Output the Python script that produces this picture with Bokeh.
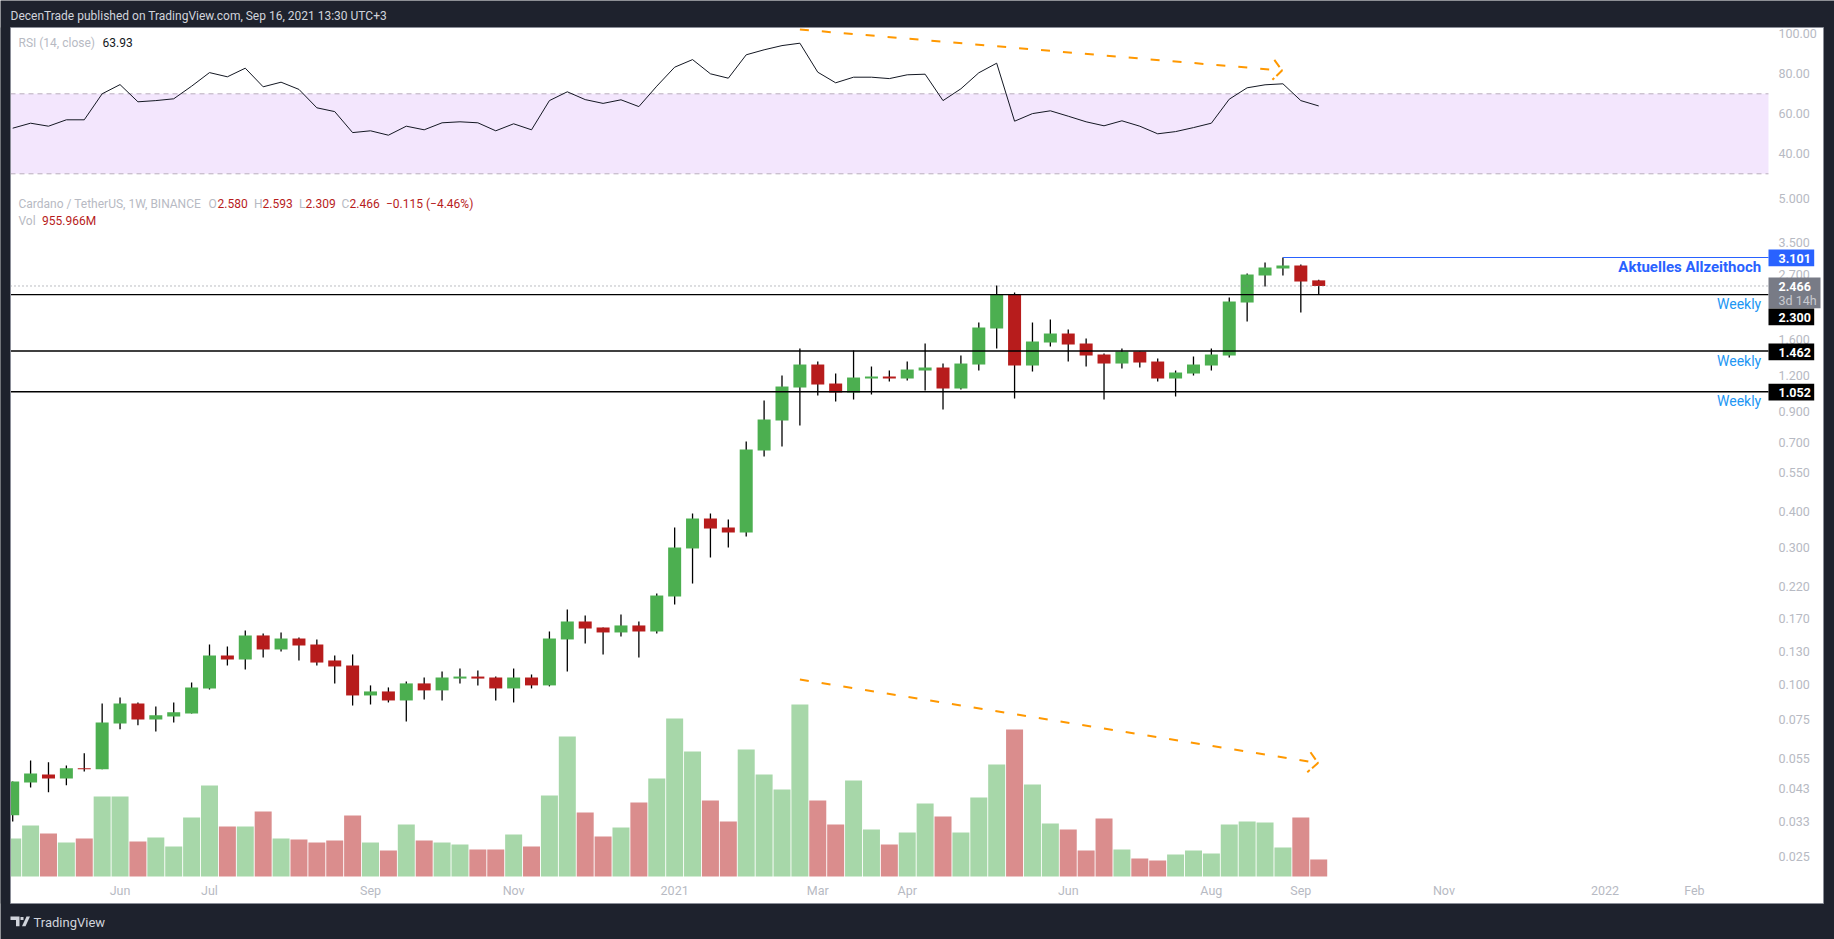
from bokeh.embed import file_html
from bokeh.resources import INLINE
from bokeh.plotting import figure
from bokeh.models import (Range1d, LinearScale, LinearAxis, LogAxis, FixedTicker, Label)

FONT = "Roboto"
DARK = "#1e222d"
GREEN = "#4caf50"
RED = "#b71c1c"
VOL_GREEN = "#a7d7a9"
VOL_RED = "#da8d8d"
TICK = "#b7bac3"

opens = [.0348,.0453,.0483,.0468,.0508,.0504,.0729,.0856,.0753,.0771,.0790,.0966,.1260,.1220,.1480,.1322,.1444,.1376,.1210,.1162,
         .0913,.0943,.0877,.1006,.0951,.1046,.1063,.1055,.0966,.1055,.0990,.1433,.1656,.1578,.1516,.1604,.1528,.2025,.2981,.3794,
         .3529,.3390,.6559,.8350,1.0890,1.3105,1.1246,1.0461,1.1710,1.1899,1.1710,1.2488,1.2793,1.0804,1.3105,1.7513,2.3026,1.3000,
         1.5645,1.6820,1.5519,1.4205,1.3210,1.4551,1.3425,1.1710,1.2189,1.3000,1.4091,2.1588,2.6832,2.8387,2.9081,2.580]
highs = [.0457,.0541,.0533,.0520,.0573,.0856,.0899,.0863,.0836,.0863,.1014,.1376,.1354,.1540,.1504,.1516,.1456,.1433,.1260,.1270,
         .0990,.0974,.1022,.1055,.1107,.1134,.1116,.1063,.1134,.1081,.1528,.1824,.1738,.1578,.1752,.1656,.2074,.3529,.3950,.3950,
         .3764,.7051,.9809,1.1995,1.4908,1.3425,1.2189,1.4670,1.2896,1.2488,1.3425,1.5519,1.3210,1.4091,1.8378,2.4756,2.3398,1.8378,
         1.8828,1.7372,1.6158,1.4318,1.4908,1.4551,1.3755,1.2488,1.3978,1.4908,2.2476,2.7264,2.9790,3.101,2.9315,2.593]
lows = [.0331,.0435,.0419,.0443,.0495,.0504,.0695,.0718,.0683,.0735,.0790,.0958,.1162,.1125,.1240,.1301,.1210,.1162,.1006,.0842,
        .0849,.0863,.0741,.0884,.0877,.1006,.0990,.0877,.0863,.0966,.0982,.1107,.1387,.1270,.1468,.1240,.1504,.1899,.2248,.2772,
        .3004,.3282,.6250,.6773,.8021,1.0212,.9729,.9888,1.0294,1.1429,1.1522,1.0631,.9123,1.0717,1.2488,1.4908,.9968,1.2387,
        1.5150,1.3425,1.2896,.9888,1.2691,1.2793,1.1429,1.0130,1.1995,1.2488,1.3865,1.8526,2.4558,2.6832,1.9919,2.309]
closes = [.0457,.0487,.0468,.0508,.0504,.0735,.0856,.0753,.0778,.0797,.0974,.1260,.1220,.1480,.1322,.1444,.1365,.1190,.1153,.0913,
          .0943,.0877,.1006,.0951,.1055,.1063,.1046,.0966,.1055,.0990,.1444,.1656,.1565,.1516,.1604,.1528,.2041,.3004,.3794,.3500,
          .3390,.6612,.8418,1.0979,1.3105,1.1157,1.0461,1.1803,1.1899,1.1710,1.2589,1.2793,1.0804,1.3210,1.7653,2.3026,1.3000,1.5771,
          1.6820,1.5396,1.4091,1.3210,1.4551,1.3318,1.1710,1.2288,1.3105,1.4205,2.1762,2.7047,2.8616,2.9081,2.5564,2.466]
volumes_m = [2135,2866,2416,1910,2135,4495,4495,1967,2191,1686,3315,5113,2810,2810,3652,2135,2079,1910,2023,3428,
             1910,1461,2922,2023,1910,1798,1517,1517,2360,1686,4551,7867,3596,2248,2753,4158,5507,8878,7024,4270,
             3090,7136,5731,4889,9665,4270,2922,5394,2641,1798,2472,4102,3371,2472,4439,6293,8260,5169,2978,2641,
             1461,3259,1517,1011,899,1236,1461,1292,2922,3090,3034,1630,3315,956]
rsi_values = [52.8,55.3,53.8,57.0,57.0,70.0,74.6,66.0,66.6,67.5,73.8,80.6,78.5,82.8,73.5,75.8,72.2,63.0,61.1,50.6,
              51.5,49.3,53.8,52.0,55.5,56.0,55.5,51.5,55.0,52.0,66.6,71.0,67.1,65.2,67.0,63.6,73.8,83.3,87.1,80.0,
              77.8,89.5,92.0,94.1,95.3,80.8,75.5,78.3,78.3,77.6,79.5,79.8,66.6,72.5,80.5,85.3,56.3,60.1,61.5,58.8,
              56.0,54.0,56.5,53.8,50.0,51.1,53.1,55.3,67.3,73.0,74.5,75.0,66.6,63.93]

levels_black = [2.300, 1.462, 1.052]
level_high = 3.101
level_last = 2.466

price_ticks = [5.0,3.5,2.7,1.6,1.2,0.9,0.7,0.55,0.4,0.3,0.22,0.17,0.13,0.1,0.075,0.055,0.043,0.033,0.025]
price_tick_labels = ["5.000","3.500","2.700","1.600","1.200","0.900","0.700","0.550","0.400","0.300","0.220","0.170","0.130","0.100","0.075","0.055","0.043","0.033","0.025"]
rsi_ticks = [100,80,60,40]
rsi_tick_labels = ["100.00","80.00","60.00","40.00"]
time_ticks = [6,11,20,28,37,45,50,59,67,72,80,89,94]
time_tick_labels = ["Jun","Jul","Sep","Nov","2021","Mar","Apr","Jun","Aug","Sep","Nov","2022","Feb"]

rsi_arrow_x = [44.0,70.9]
rsi_arrow_y = [102.15,81.65]
rsi_head_x = [70.52,70.95,70.41]
rsi_head_y = [87.0,81.65,77.0]
vol_arrow_x = [44.0,72.96]
vol_arrow_y = [.1038,.0530]
vol_head_x = [72.54,72.96,72.36]
vol_head_y = [.0578,.0530,.0492]

X0, AXIS_X = -0.123, 98.14
x = list(range(len(opens)))
up = [c >= o for o, c in zip(opens, closes)]

p = figure(width=1834, height=939, output_backend="svg", toolbar_location=None,
           x_range=Range1d(-0.682, 101.83), y_range=Range1d(0.012803, 24.55), y_axis_type="log",
           x_axis_location=None, y_axis_location=None,
           min_border_left=0, min_border_right=0, min_border_top=0, min_border_bottom=0,
           background_fill_color=DARK, border_fill_color=DARK, outline_line_color=None)
p.grid.visible = False
p.extra_y_ranges = {"rsi": Range1d(-352.85, 116.65), "vol": Range1d(-3541, 49231), "py": Range1d(939, 0)}
p.extra_y_scales = {"rsi": LinearScale(), "vol": LinearScale(), "py": LinearScale()}
p.extra_x_ranges = {"px": Range1d(0, 1834)}
p.extra_x_scales = {"px": LinearScale()}

def panel_rect(l, r, t, b, fill, line=None, level="glyph"):
    return p.quad(left=[l], right=[r], top=[t], bottom=[b], x_range_name="px", y_range_name="py",
                  fill_color=fill, line_color=line, level=level)

panel_rect(10, 1823, 27, 903, "white")

# volume
p.vbar(x=[i for i, u in zip(x, up) if u], top=[v for v, u in zip(volumes_m, up) if u], bottom=0, width=0.95,
       y_range_name="vol", fill_color=VOL_GREEN, line_color=None)
p.vbar(x=[i for i, u in zip(x, up) if not u], top=[v for v, u in zip(volumes_m, up) if not u], bottom=0, width=0.95,
       y_range_name="vol", fill_color=VOL_RED, line_color=None)

# RSI
p.quad(left=[X0], right=[AXIS_X], top=[70], bottom=[30], y_range_name="rsi", fill_color="#f3e6fd", line_color=None)
for lvl in (70, 30):
    p.line([X0, AXIS_X], [lvl, lvl], y_range_name="rsi", line_color="#b9aebd", line_width=1, line_dash=[5, 4])
p.line(x, rsi_values, y_range_name="rsi", line_color="#131722", line_width=1)

# candles
p.segment(x0=x, x1=x, y0=lows, y1=highs, line_color="black", line_width=1.3)
p.vbar(x=[i for i, u in zip(x, up) if u],
       top=[c for c, u in zip(closes, up) if u], bottom=[o for o, u in zip(opens, up) if u],
       width=0.727, fill_color=GREEN, line_color=None)
p.vbar(x=[i for i, u in zip(x, up) if not u],
       top=[o for o, u in zip(opens, up) if not u], bottom=[c for c, u in zip(closes, up) if not u],
       width=0.727, fill_color=RED, line_color=None)

# levels
for lvl in levels_black:
    p.line([X0, AXIS_X], [lvl, lvl], line_color="black", line_width=1.4)
p.line([71, AXIS_X], [level_high, level_high], line_color="#2962ff", line_width=1.2)
p.line([X0, AXIS_X], [level_last, level_last], line_color="#787b86", line_width=1, line_dash=[1, 3])

# dashed arrows
ORANGE = "#ff9800"
p.line(rsi_arrow_x, rsi_arrow_y, y_range_name="rsi", line_color=ORANGE, line_width=2, line_dash=[9, 13])
p.line(rsi_head_x, rsi_head_y, y_range_name="rsi", line_color=ORANGE, line_width=2, line_dash=[9, 3])
p.line(vol_arrow_x, vol_arrow_y, line_color=ORANGE, line_width=2, line_dash=[9, 13])
p.line(vol_head_x, vol_head_y, line_color=ORANGE, line_width=2, line_dash=[9, 3])

# frame: hide what is left of the pane, then its border
panel_rect(0, 10, 27, 903, DARK)
panel_rect(10, 1823, 27, 903, None, "#8b8e98")

# axes
def style(ax, labels, ticks):
    ax.ticker = FixedTicker(ticks=ticks)
    ax.major_label_overrides = dict(zip(ticks, labels))
    ax.axis_line_color = None
    ax.major_tick_line_color = None
    ax.minor_tick_line_color = None
    ax.major_tick_in = 0
    ax.major_tick_out = 0
    ax.major_label_text_color = TICK
    ax.major_label_text_font = FONT
    ax.major_label_text_font_size = "12.5px"

price_axis = LogAxis(fixed_location=AXIS_X, major_label_standoff=10)
style(price_axis, price_tick_labels, price_ticks)
p.add_layout(price_axis, "right")
rsi_axis = LinearAxis(fixed_location=AXIS_X, y_range_name="rsi", major_label_standoff=10)
style(rsi_axis, rsi_tick_labels, rsi_ticks)
p.add_layout(rsi_axis, "right")
time_axis = LinearAxis(fixed_location=0.02126, major_label_standoff=7)
style(time_axis, time_tick_labels, time_ticks)
p.add_layout(time_axis, "below")

# price tags (drawn above the axis labels)
def tag(l, r, t, b, color):
    panel_rect(l, r, t, b, color, None, "annotation")

def text(px, py, s, color, size=12, style="normal", align="left"):
    p.add_layout(Label(x=px, y=py, text=s, x_range_name="px", y_range_name="py",
                       text_color=color, text_font=FONT, text_font_size=f"{size}px",
                       text_font_style=style, text_align=align, text_baseline="middle"))

tag(1768, 1813.7, 249, 265.7, "#2962ff")
tag(1768, 1820, 277, 307.7, "#787b86")
tag(1768, 1813.7, 308, 324.7, "#000000")
tag(1768, 1813.7, 343, 359.7, "#000000")
tag(1768, 1813.7, 383.3, 400, "#000000")
text(1778, 257.5, "3.101", "white", 12.5, "bold")
text(1778, 285.5, "2.466", "white", 12.5, "bold")
text(1778, 299.5, "3d 14h", "#c8cad0", 12.5)
text(1778, 316.5, "2.300", "white", 12.5, "bold")
text(1778, 351.5, "1.462", "white", 12.5, "bold")
text(1778, 391.5, "1.052", "white", 12.5, "bold")

text(1760.7, 266.7, "Aktuelles Allzeithoch", "#2962ff", 15, "bold", "right")
text(1760.7, 303.3, "Weekly", "#2196f3", 14, "normal", "right")
text(1760.7, 360.3, "Weekly", "#2196f3", 14, "normal", "right")
text(1760.7, 400.3, "Weekly", "#2196f3", 14, "normal", "right")

# header and legends
text(10, 15, "DecenTrade published on TradingView.com, Sep 16, 2021 13:30 UTC+3", "#d1d4dc", 12)
text(18, 42, "RSI (14, close)", TICK)
text(102, 42, "63.93", "#131722")
text(18, 203, "Cardano / TetherUS, 1W, BINANCE", TICK)
for lx, letter, vx, val in [(208, "O", 217, "2.580"), (253.5, "H", 262, "2.593"), (298.5, "L", 305, "2.309"), (341, "C", 349, "2.466")]:
    text(lx, 203, letter, TICK)
    text(vx, 203, val, RED)
text(385.5, 203, "\u22120.115 (\u22124.46%)", RED)
text(18, 220.5, "Vol", TICK)
text(41.5, 220.5, "955.966M", RED)

# footer
text(33, 922, "TradingView", "#d1d4dc", 13)
logo_xs = [[10, 19, 19, 15.5, 15.5, 10], [20, 23, 23, 20], [26, 29.5, 25, 21.5]]
logo_ys = [[916, 916, 925.7, 925.7, 919.5, 919.5], [916.5, 916.5, 919.5, 919.5], [916, 916, 925.7, 925.7]]
p.patches(logo_xs, logo_ys, x_range_name="px", y_range_name="py", fill_color="#d1d4dc", line_color=None)

open("out.html", "w").write(file_html(p, INLINE))
